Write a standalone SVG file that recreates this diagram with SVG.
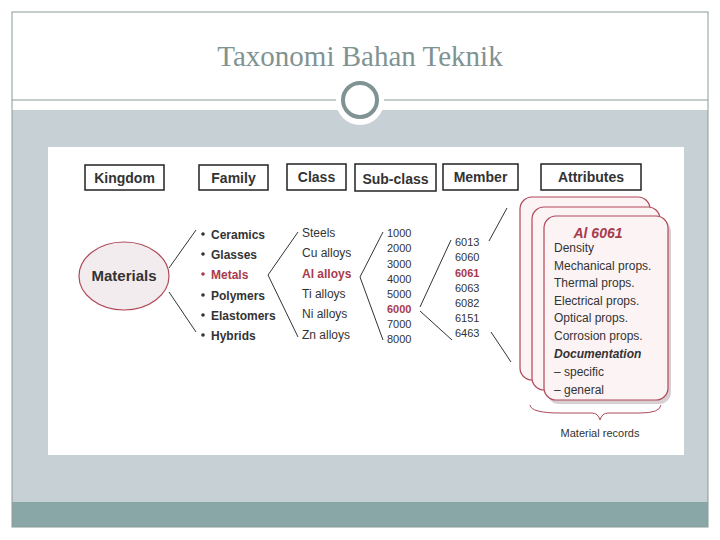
<svg xmlns="http://www.w3.org/2000/svg" width="720" height="540" viewBox="0 0 720 540">
<style>
.h{fill:#fff;stroke:#222;stroke-width:1.5}
.ht{font-family:"Liberation Sans",Arial,sans-serif;font-size:14px;font-weight:bold;fill:#333;text-anchor:middle}
.t{font-family:"Liberation Sans",Arial,sans-serif;font-size:12px;fill:#333}
.s{font-size:11px}
.b{font-weight:bold}
.r{fill:#a83a4e}
.c{fill:#fcf3f5;stroke:#b04858;stroke-width:1.2}
.ln{stroke:#333;stroke-width:1;fill:none}
</style>
<rect x="0" y="0" width="720" height="540" fill="#fff"/>
<rect x="12" y="110" width="696" height="392" fill="#c6d0d5"/>
<rect x="12" y="502" width="696" height="25" fill="#8aa7a8"/>
<rect x="12" y="12" width="696" height="515" fill="none" stroke="#8a9a9a" stroke-width="1"/>
<line x1="12" y1="100" x2="708" y2="100" stroke="#8a9a9a" stroke-width="1"/>
<circle cx="360" cy="101" r="24" fill="#fff"/>
<circle cx="360" cy="100" r="17" fill="#fff" stroke="#7f9392" stroke-width="4"/>
<text x="360" y="66" font-family="Liberation Serif,Times New Roman,serif" font-size="29" fill="#7f9392" text-anchor="middle">Taxonomi Bahan Teknik</text>
<rect x="48" y="147" width="636" height="308" fill="#fff"/>
<g id="headers">
<rect class="h" x="85" y="165" width="79" height="25"/><text class="ht" x="124.5" y="183">Kingdom</text>
<rect class="h" x="199" y="165" width="69" height="25"/><text class="ht" x="233.5" y="183">Family</text>
<rect class="h" x="287" y="164" width="59" height="26"/><text class="ht" x="316.5" y="182">Class</text>
<rect class="h" x="355" y="164" width="81" height="27"/><text class="ht" x="395.5" y="184">Sub-class</text>
<rect class="h" x="443" y="164" width="75" height="26"/><text class="ht" x="480.5" y="182">Member</text>
<rect class="h" x="541" y="164" width="100" height="26"/><text class="ht" x="591" y="182">Attributes</text>
</g>
<g id="connectors" class="ln">
<line x1="169" y1="268" x2="196" y2="230"/><line x1="169" y1="292" x2="196" y2="332"/>
<line x1="268" y1="275" x2="298" y2="232"/><line x1="268" y1="275" x2="298" y2="337"/>
<line x1="360" y1="277" x2="383" y2="232"/><line x1="360" y1="277" x2="383" y2="340"/>
<line x1="420" y1="307" x2="451" y2="240"/><line x1="420" y1="311" x2="452" y2="340"/>
<line x1="489" y1="241" x2="507" y2="208"/><line x1="491" y1="332" x2="511" y2="362"/>
</g>
<g id="materials">
<ellipse cx="124" cy="276" rx="45" ry="34" fill="#f3ecee" stroke="#b04858" stroke-width="1.2"/>
<text class="t b" x="124" y="281" text-anchor="middle" style="font-size:15px">Materials</text>
</g>
<g id="family" class="t b">
<circle cx="203" cy="234" r="1.8" fill="#333"/><text x="211" y="239">Ceramics</text>
<circle cx="203" cy="254" r="1.8" fill="#333"/><text x="211" y="259">Glasses</text>
<circle cx="203" cy="274" r="1.8" fill="#a83a4e"/><text x="211" y="279" class="r">Metals</text>
<circle cx="203" cy="295" r="1.8" fill="#333"/><text x="211" y="300">Polymers</text>
<circle cx="203" cy="315" r="1.8" fill="#333"/><text x="211" y="320">Elastomers</text>
<circle cx="203" cy="335" r="1.8" fill="#333"/><text x="211" y="340">Hybrids</text>
</g>
<g id="class" class="t">
<text x="302" y="237">Steels</text>
<text x="302" y="257">Cu alloys</text>
<text x="302" y="278" class="r b">Al alloys</text>
<text x="302" y="298">Ti alloys</text>
<text x="302" y="318">Ni alloys</text>
<text x="302" y="339">Zn alloys</text>
</g>
<g id="subclass" class="t s">
<text x="387" y="237">1000</text><text x="387" y="252">2000</text><text x="387" y="268">3000</text><text x="387" y="283">4000</text>
<text x="387" y="298">5000</text><text x="387" y="313" class="r b">6000</text><text x="387" y="328">7000</text><text x="387" y="343">8000</text>
</g>
<g id="member" class="t s">
<text x="455" y="246">6013</text><text x="455" y="261">6060</text><text x="455" y="277" class="r b">6061</text><text x="455" y="292">6063</text>
<text x="455" y="307">6082</text><text x="455" y="322">6151</text><text x="455" y="337">6463</text>
</g>
<g id="records">
<rect class="c" x="520" y="197" width="130" height="183" rx="12"/>
<rect class="c" x="532" y="207" width="128" height="183" rx="12"/>
<rect x="547" y="220" width="124" height="184" rx="12" fill="#d8cfd2"/>
<rect class="c" x="544" y="216" width="124" height="184" rx="12"/>
<text x="598" y="238" class="t b r" font-style="italic" text-anchor="middle" style="font-size:14px">Al 6061</text>
<text class="t" x="554" y="252">Density</text>
<text class="t" x="554" y="270">Mechanical props.</text>
<text class="t" x="554" y="287">Thermal props.</text>
<text class="t" x="554" y="305">Electrical props.</text>
<text class="t" x="554" y="322">Optical props.</text>
<text class="t" x="554" y="340">Corrosion props.</text>
<text class="t b" x="554" y="358" font-style="italic">Documentation</text>
<text class="t" x="554" y="376">– specific</text>
<text class="t" x="554" y="394">– general</text>
<path d="M530 405 Q531 413 560 413 L592 413 Q598 413 600 420 Q602 413 608 413 L640 413 Q660 413 661 405" fill="none" stroke="#b04858" stroke-width="1"/>
<text class="t s" x="600" y="437" text-anchor="middle">Material records</text>
</g>
</svg>
